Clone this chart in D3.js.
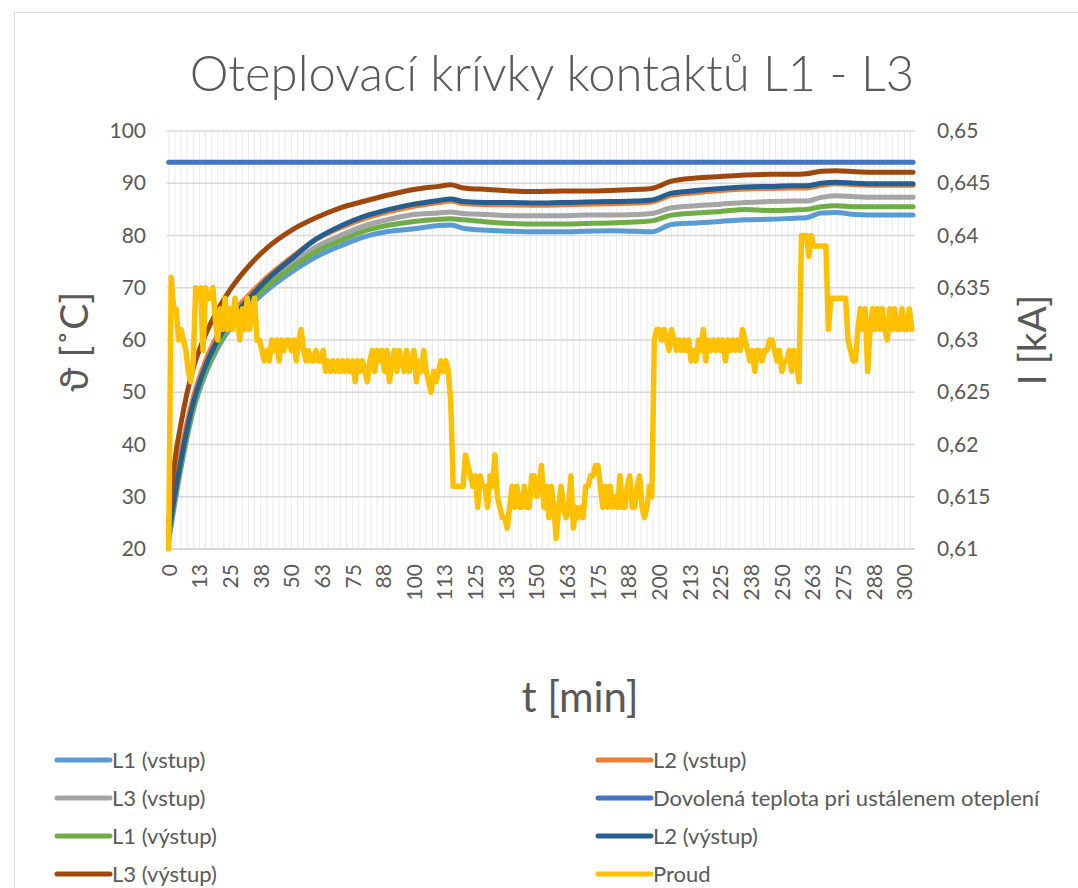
<!DOCTYPE html>
<html>
<head>
<meta charset="utf-8">
<script src="https://cdn.jsdelivr.net/npm/d3@7"></script>
<style>
body { margin: 0; background: #fff; }
text { font-family: Lato, "Open Sans", sans-serif; fill: #595959; }
</style>
</head>
<body>
<div id="chart"></div>
<script>
// cas [min] pro teplotni krivky
const casy = [0, 2, 5, 10, 15, 20, 25, 30, 40, 50, 60, 70, 80, 90, 100, 110, 115, 120, 130, 140, 150, 160, 170, 180, 190, 197, 205, 215, 225, 235, 245, 255, 260, 266, 272, 280, 290, 303.5]

const l1Vstup = [21.5, 27.5, 35.5, 46.5, 53.5, 58.5, 62.2, 65.0, 69.5, 73.0, 75.9, 78.0, 79.8, 80.8, 81.3, 81.9, 82.0, 81.4, 81.0, 80.8, 80.7, 80.7, 80.8, 80.9, 80.8, 80.7, 82.1, 82.4, 82.7, 83.0, 83.1, 83.3, 83.4, 84.3, 84.4, 84.0, 83.9, 83.9]
const l2Vstup = [23.0, 30.0, 38.5, 49.0, 56.0, 61.0, 64.8, 67.3, 72.0, 75.8, 79.2, 81.5, 83.3, 84.6, 85.6, 86.3, 86.6, 86.1, 85.9, 85.9, 85.8, 85.9, 86.0, 86.1, 86.2, 86.4, 87.7, 88.2, 88.6, 88.9, 89.0, 89.1, 89.1, 89.6, 89.9, 89.7, 89.6, 89.6]
const l3Vstup = [22.5, 28.5, 36.5, 47.5, 54.5, 59.5, 63.3, 66.2, 70.8, 74.5, 77.8, 80.0, 81.9, 83.1, 84.0, 84.3, 84.5, 84.2, 84.0, 83.8, 83.8, 83.8, 83.9, 83.9, 84.0, 84.2, 85.3, 85.7, 86.0, 86.3, 86.5, 86.6, 86.6, 87.3, 87.6, 87.4, 87.3, 87.3]
const l1Vystup = [22.0, 28.0, 36.0, 47.0, 54.0, 59.0, 62.8, 65.6, 70.2, 73.8, 76.9, 79.0, 80.9, 82.0, 82.7, 83.1, 83.2, 83.0, 82.6, 82.3, 82.2, 82.2, 82.3, 82.4, 82.6, 82.8, 83.9, 84.3, 84.6, 85.0, 84.8, 84.9, 85.0, 85.5, 85.7, 85.5, 85.5, 85.5]
const l2Vystup = [23.0, 29.0, 37.0, 48.0, 55.0, 60.0, 63.8, 66.5, 71.5, 75.5, 79.3, 81.8, 83.7, 85.0, 86.0, 86.7, 87.0, 86.5, 86.3, 86.3, 86.2, 86.3, 86.4, 86.5, 86.6, 86.8, 88.1, 88.6, 89.0, 89.3, 89.4, 89.5, 89.5, 90.0, 90.2, 90.0, 89.9, 89.9]
const l3Vystup = [25.0, 35.0, 44.0, 54.6, 61.0, 65.8, 69.6, 72.7, 77.6, 81.0, 83.4, 85.3, 86.6, 87.8, 88.8, 89.4, 89.7, 89.1, 88.8, 88.5, 88.4, 88.5, 88.5, 88.6, 88.8, 89.0, 90.4, 91.0, 91.3, 91.6, 91.7, 91.7, 91.8, 92.3, 92.4, 92.2, 92.1, 92.1]

const dovolenaCasy = [0, 303.5]
const dovolenaTeplota = [94, 94]

// proud [kA], jedna hodnota za minutu od t = 0
const proud = [
  0.610, 0.636, 0.633, 0.633, 0.630, 0.631, 0.630, 0.629, 0.627, 0.626,
  0.628, 0.635, 0.634, 0.635, 0.629, 0.635, 0.634, 0.634, 0.635, 0.632,
  0.630, 0.633, 0.631, 0.634, 0.631, 0.633, 0.631, 0.634, 0.632, 0.630,
  0.633, 0.631, 0.634, 0.631, 0.633, 0.634, 0.630, 0.630, 0.629, 0.628,
  0.629, 0.628, 0.630, 0.629, 0.630, 0.628, 0.630, 0.629, 0.630, 0.630,
  0.629, 0.630, 0.628, 0.630, 0.631, 0.629, 0.628, 0.629, 0.628, 0.628,
  0.629, 0.628, 0.628, 0.629, 0.627, 0.628, 0.627, 0.628, 0.627, 0.628,
  0.627, 0.628, 0.627, 0.628, 0.627, 0.628, 0.626, 0.628, 0.627, 0.628,
  0.627, 0.626, 0.628, 0.629, 0.627, 0.629, 0.628, 0.629, 0.627, 0.629,
  0.626, 0.628, 0.629, 0.627, 0.629, 0.628, 0.627, 0.629, 0.627, 0.628,
  0.629, 0.626, 0.628, 0.627, 0.629, 0.627, 0.626, 0.625, 0.627, 0.626,
  0.627, 0.628, 0.627, 0.628, 0.627, 0.624, 0.616, 0.616, 0.616, 0.616,
  0.616, 0.619, 0.618, 0.617, 0.616, 0.617, 0.614, 0.617, 0.616, 0.616,
  0.614, 0.617, 0.616, 0.619, 0.615, 0.614, 0.613, 0.613, 0.612, 0.614,
  0.616, 0.614, 0.616, 0.614, 0.614, 0.616, 0.614, 0.614, 0.617, 0.617,
  0.615, 0.616, 0.618, 0.614, 0.616, 0.613, 0.616, 0.614, 0.611, 0.614,
  0.616, 0.614, 0.613, 0.614, 0.617, 0.612, 0.614, 0.613, 0.614, 0.613,
  0.616, 0.616, 0.617, 0.617, 0.618, 0.618, 0.616, 0.614, 0.616, 0.614,
  0.616, 0.614, 0.615, 0.614, 0.617, 0.614, 0.614, 0.616, 0.617, 0.614,
  0.614, 0.616, 0.617, 0.614, 0.613, 0.614, 0.616, 0.615, 0.630, 0.631,
  0.631, 0.630, 0.631, 0.630, 0.629, 0.631, 0.630, 0.629, 0.630, 0.629,
  0.630, 0.629, 0.630, 0.628, 0.629, 0.628, 0.630, 0.629, 0.631, 0.628,
  0.630, 0.629, 0.630, 0.629, 0.630, 0.629, 0.630, 0.628, 0.630, 0.629,
  0.630, 0.629, 0.630, 0.629, 0.631, 0.630, 0.629, 0.628, 0.629, 0.627,
  0.629, 0.629, 0.628, 0.629, 0.629, 0.630, 0.630, 0.629, 0.628, 0.629,
  0.627, 0.628, 0.628, 0.629, 0.627, 0.629, 0.628, 0.626, 0.640, 0.640,
  0.640, 0.638, 0.640, 0.639, 0.639, 0.639, 0.639, 0.639, 0.639, 0.631,
  0.634, 0.634, 0.634, 0.634, 0.634, 0.634, 0.634, 0.630, 0.629, 0.628,
  0.628, 0.631, 0.633, 0.631, 0.633, 0.627, 0.631, 0.633, 0.631, 0.633,
  0.631, 0.633, 0.631, 0.630, 0.633, 0.631, 0.633, 0.631, 0.631, 0.633,
  0.631, 0.631, 0.633, 0.631
]

const teplotaTicks = [20, 30, 40, 50, 60, 70, 80, 90, 100]
const proudTicks = [0.61, 0.615, 0.62, 0.625, 0.63, 0.635, 0.64, 0.645, 0.65]
const casTicks = [0, 12.5, 25, 37.5, 50, 62.5, 75, 87.5, 100, 112.5, 125, 137.5, 150, 162.5, 175, 187.5, 200, 212.5, 225, 237.5, 250, 262.5, 275, 287.5, 300]

const nazvy = ["L1 (vstup)", "L2 (vstup)", "L3 (vstup)", "Dovolená teplota pri ustálenem oteplení", "L1 (výstup)", "L2 (výstup)", "L3 (výstup)", "Proud"]
const barvy = ["#5B9BD5", "#ED7D31", "#A5A5A5", "#4472C4", "#70AD47", "#255E91", "#9E480E", "#FFC000"]

var svg = d3.select("#chart").append("svg").attr("width", 1078).attr("height", 888)

// ramecek grafu
svg.append("rect").attr("x", 14.5).attr("y", 12.5).attr("width", 1100).attr("height", 900)
    .attr("fill", "none").attr("stroke", "#d9d9d9").attr("stroke-width", 1)

var x = d3.scaleLinear().domain([-0.7, 304.3]).range([167, 915])
var yL = d3.scaleLinear().domain([20, 100]).range([549, 131])
var yR = d3.scaleLinear().domain([0.61, 0.65]).range([549, 131])

// svisle pomocne mrizky
svg.append("g").selectAll("line").data(d3.range(0, 304, 2.5)).enter().append("line")
    .attr("x1", d => x(d)).attr("x2", d => x(d)).attr("y1", 131).attr("y2", 549)
    .attr("stroke", "#eaeaea").attr("stroke-width", 1)

// vodorovne mrizky
svg.append("g").selectAll("line").data(teplotaTicks).enter().append("line")
    .attr("x1", 167).attr("x2", 915).attr("y1", d => yL(d)).attr("y2", d => yL(d))
    .attr("stroke", "#d9d9d9").attr("stroke-width", d => d == 20 ? 2 : 1.3)

var axisL = svg.append("g").attr("transform", "translate(167,0)")
    .call(d3.axisLeft(yL).tickValues(teplotaTicks).tickSize(0).tickPadding(21))
var axisR = svg.append("g").attr("transform", "translate(915,0)")
    .call(d3.axisRight(yR).tickValues(proudTicks).tickSize(0).tickPadding(22).tickFormat(d => String(+d.toFixed(3)).replace(".", ",")))
var axisB = svg.append("g").attr("transform", "translate(0,549)")
    .call(d3.axisBottom(x).tickValues(casTicks).tickSize(0).tickFormat(d => Math.round(d)))

svg.selectAll(".domain").remove()
svg.selectAll(".tick text").style("font-size", "21px").style("font-family", "Lato, 'Open Sans', sans-serif").attr("fill", "#595959")
axisB.selectAll("text").attr("y", 0).attr("x", -15).attr("dy", "0.35em")
    .attr("transform", "rotate(-90)").style("text-anchor", "end")

// teplotni krivky
var teplotniRady = [l1Vstup, l2Vstup, l3Vstup, null, l1Vystup, l2Vystup, l3Vystup]
var lineT = d3.line().x(d => x(d[0])).y(d => yL(d[1])).curve(d3.curveMonotoneX)

teplotniRady.forEach(function(rada, i) {
    var body = rada ? casy.map((c, j) => [c, rada[j]]) : dovolenaCasy.map((c, j) => [c, dovolenaTeplota[j]])
    svg.append("path").datum(body).attr("d", lineT)
        .attr("fill", "none").attr("stroke", barvy[i]).attr("stroke-width", 5)
        .attr("stroke-linecap", "round").attr("stroke-linejoin", "round")
})

// proud na vedlejsi ose
var lineP = d3.line().x((d, i) => x(i)).y(d => yR(d))
svg.append("path").datum(proud).attr("d", lineP)
    .attr("fill", "none").attr("stroke", barvy[7]).attr("stroke-width", 5.5)
    .attr("stroke-linecap", "round").attr("stroke-linejoin", "round")

// popisky
svg.append("text").attr("x", 552).attr("y", 91).attr("text-anchor", "middle")
    .style("font-size", "49px").style("font-weight", 300).text("Oteplovací krívky kontaktů L1 - L3")
svg.append("text").attr("transform", "translate(88,342) rotate(-90)").attr("text-anchor", "middle")
    .style("font-size", "39px").text("ϑ [˚C]")
svg.append("text").attr("transform", "translate(1046,340) rotate(-90)").attr("text-anchor", "middle")
    .style("font-size", "39px").text("I [kA]")
svg.append("text").attr("x", 580).attr("y", 712).attr("text-anchor", "middle")
    .style("font-size", "42px").text("t [min]")

// legenda
var legenda = svg.append("g").selectAll("g").data(nazvy).enter().append("g")
    .attr("transform", (d, i) => "translate(" + (i % 2 == 0 ? 57 : 598) + "," + (760 + Math.floor(i / 2) * 38) + ")")
legenda.append("line").attr("x1", 0).attr("x2", 53).attr("y1", 0).attr("y2", 0)
    .attr("stroke", (d, i) => barvy[i]).attr("stroke-width", 5).attr("stroke-linecap", "round")
legenda.append("text").attr("x", 55).attr("y", 0).attr("dy", "0.35em")
    .style("font-size", "22px").text(d => d)
</script>
</body>
</html>
